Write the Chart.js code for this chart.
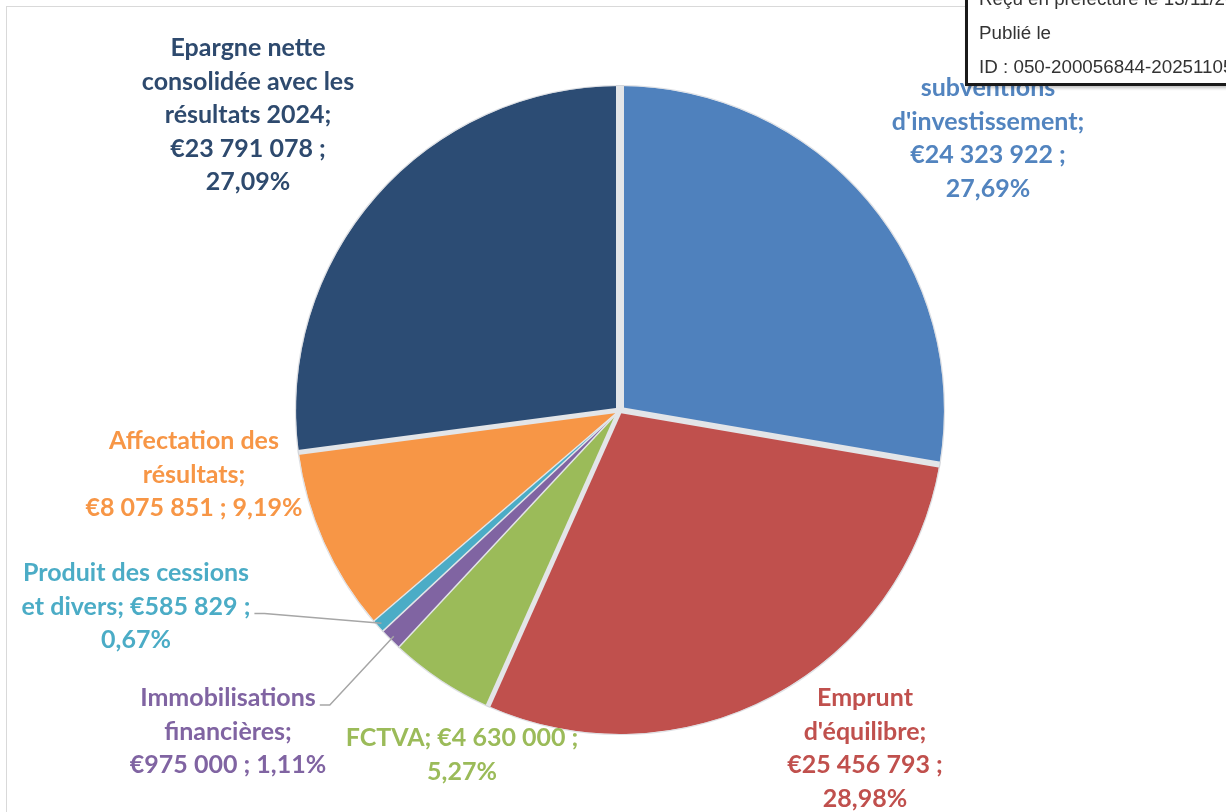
<!DOCTYPE html>
<html lang="fr">
<head>
<meta charset="utf-8">
<title>Recettes d'investissement</title>
<script src="https://cdn.jsdelivr.net/npm/chart.js@4/dist/chart.umd.min.js"></script>
<style>
    html, body { margin: 0; padding: 0; background: #fff; overflow: hidden; }
    #wrap { position: relative; width: 1226px; height: 812px; overflow: hidden; }
    #frame { position: absolute; left: 6px; top: 6px; width: 1300px; height: 900px;
             border-top: 1px solid #d9d9d9; border-left: 1px solid #d9d9d9; }
    #chart { position: absolute; left: 0; top: 0; }
    #stamp { position: absolute; left: 965px; top: -12px; width: 400px; height: 92px;
             border: 3px solid #1a1a1a; background: #fff; color: #333;
             font-family: "Liberation Sans", Arial, sans-serif; font-size: 18.8px;
             box-shadow: 2px 2px 3px rgba(0,0,0,0.25); }
    #stamp div { position: absolute; left: 11px; white-space: nowrap; line-height: 20px; }
</style>
</head>
<body>
<div id="wrap">
    <div id="frame"></div>
    <canvas id="chart" width="1226" height="812"></canvas>
    <div id="stamp">
        <div style="top:-2px">Reçu en préfecture le 13/11/2025</div>
        <div style="top:32px">Publié le</div>
        <div style="top:66px">ID : 050-200056844-20251105</div>
    </div>
</div>
<script>
// Data (slices in clockwise order from 12 o'clock)
const categories = [
    "subventions d'investissement",
    "Emprunt d'équilibre",
    'FCTVA',
    'Immobilisations financières',
    'Produit des cessions et divers',
    'Affectation des résultats',
    'Epargne nette consolidée avec les résultats 2024'
];
const amounts = [24323922, 25456793, 4630000, 975000, 585829, 8075851, 23791078];

// Colours
const sliceColors = ['#4f81bd', '#c0504d', '#9bbb59', '#8064a2', '#4bacc6', '#f79646', '#2c4c74'];
const textColors  = ['#5284bf', '#c0504d', '#9bbb59', '#8064a2', '#4bacc6', '#f79646', '#2e4a6e'];

// Width of the light gap drawn at the start edge of each slice
const gapWidths = [8, 6, 5, 1.5, 1.5, 1.5, 5];
const GAP_COLOR = '#e3e5e8';

// Label layout: block centre offset from pie centre, wrap width, leader line
const labelOffsets = [[368, -322], [245, 288], [-158, 328], [-392, 288], [-484, 163], [-426, 31], [-372, -362]];
const wrapWidths   = [215, 190, 250, 210, 235, 218, 224];
const leaderFrom   = [null, null, null, 0, 1, null, null];

const LINE_H = 33.5;
const LABEL_FONT = 'bold 25px Lato, "Open Sans", sans-serif';

function formatAmount(v) {
    return String(v).replace(/\B(?=(\d{3})+(?!\d))/g, '\u00A0');
}

function wrapText(ctx, text, maxW) {
    const words = text.split(' ');
    const lines = [];
    let cur = '';
    words.forEach(w => {
        const test = cur ? cur + ' ' + w : w;
        if (cur && ctx.measureText(test).width > maxW) {
            lines.push(cur);
            cur = w;
        } else {
            cur = test;
        }
    });
    if (cur) lines.push(cur);
    return lines;
}

const sliceLabels = {
    id: 'sliceLabels',
    afterDatasetsDraw(chart) {
        const ctx = chart.ctx;
        const arcs = chart.getDatasetMeta(0).data;
        const total = amounts.reduce((a, b) => a + b, 0);
        const cx = arcs[0].x, cy = arcs[0].y, r = arcs[0].outerRadius;

        ctx.save();
        // light separators between slices
        ctx.strokeStyle = GAP_COLOR;
        ctx.lineCap = 'butt';
        arcs.forEach((arc, i) => {
            ctx.beginPath();
            ctx.moveTo(cx, cy);
            ctx.lineTo(cx + Math.cos(arc.startAngle) * (r + 1), cy + Math.sin(arc.startAngle) * (r + 1));
            ctx.lineWidth = gapWidths[i];
            ctx.stroke();
        });
        // faint rim
        ctx.beginPath();
        ctx.arc(cx, cy, r + 0.5, 0, Math.PI * 2);
        ctx.lineWidth = 1.2;
        ctx.strokeStyle = 'rgba(200,204,210,0.6)';
        ctx.stroke();

        ctx.font = LABEL_FONT;
        ctx.textAlign = 'center';
        ctx.textBaseline = 'middle';

        arcs.forEach((arc, i) => {
            const pct = (amounts[i] / total * 100).toFixed(2).replace('.', ',');
            const text = categories[i] + '; €' + formatAmount(amounts[i]) + ' ; ' + pct + '%';
            const lines = wrapText(ctx, text, wrapWidths[i]);
            const x = cx + labelOffsets[i][0];
            const y0 = cy + labelOffsets[i][1];

            if (leaderFrom[i] !== null) {
                const li = leaderFrom[i];
                const lw = ctx.measureText(lines[li]).width;
                const sx = x + lw / 2 + 4;
                const sy = y0 + li * LINE_H + 7;
                const mid = (arc.startAngle + arc.endAngle) / 2;
                ctx.beginPath();
                ctx.moveTo(sx, sy);
                ctx.lineTo(sx + 10, sy);
                ctx.lineTo(cx + Math.cos(mid) * (r - 4), cy + Math.sin(mid) * (r - 4));
                ctx.lineWidth = 1.5;
                ctx.strokeStyle = '#a6a6a6';
                ctx.stroke();
            }

            ctx.fillStyle = textColors[i];
            lines.forEach((line, k) => ctx.fillText(line, x, y0 + k * LINE_H));
        });
        ctx.restore();
    }
};

new Chart(document.getElementById('chart'), {
    type: 'pie',
    data: {
        labels: categories,
        datasets: [{
            data: amounts,
            backgroundColor: sliceColors,
            borderWidth: 0,
            hoverOffset: 0
        }]
    },
    options: {
        responsive: false,
        animation: false,
        layout: { padding: { left: 296, right: 282, top: 86, bottom: 78 } },
        plugins: {
            legend: { display: false },
            tooltip: { enabled: false }
        }
    },
    plugins: [sliceLabels]
});
</script>
</body>
</html>
